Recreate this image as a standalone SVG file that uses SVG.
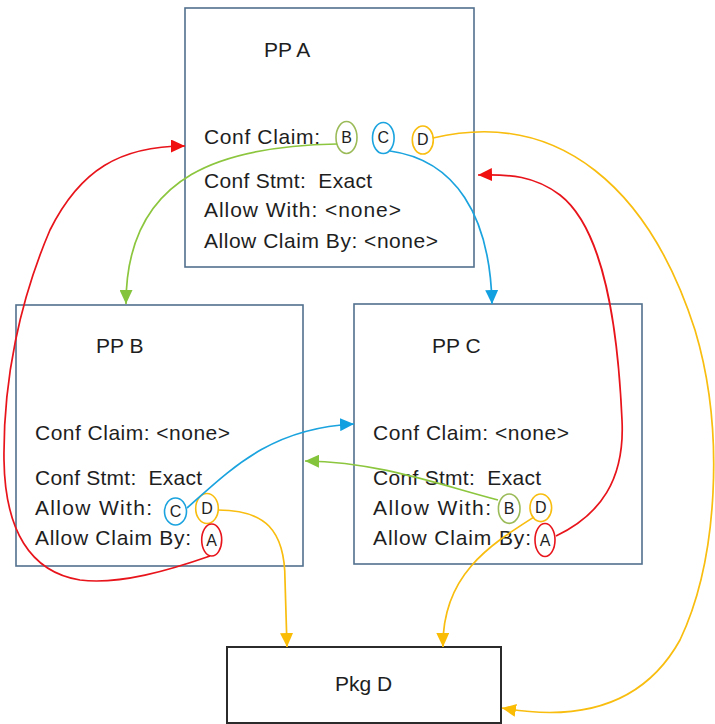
<svg xmlns="http://www.w3.org/2000/svg" width="715" height="724" viewBox="0 0 715 724">
  <style>
    .box { fill: #ffffff; stroke: #52708e; stroke-width: 1.6; }
    .pkg { fill: #ffffff; stroke: #2b2b2b; stroke-width: 2; }
    .t { font-family: "Liberation Sans", Arial, sans-serif; font-size: 21px; fill: #1e1e1e; }
    .l { font-family: "Liberation Sans", Arial, sans-serif; font-size: 16px; fill: #1e1e1e; text-anchor: middle; }
    .o { fill: none; stroke-width: 1.6; }
    .c { fill: none; stroke-width: 1.7; }
    .red { stroke: #e8141b; }
    .grn { stroke: #8cc63e; }
    .ogrn { stroke: #9bbb59; }
    .blu { stroke: #1aa3de; }
    .yel { stroke: #f8bd0e; }
  </style>
  <defs>
    <marker id="ah-red" markerUnits="userSpaceOnUse" markerWidth="15" markerHeight="13" refX="14" refY="6.5" orient="auto">
      <path d="M0,0 L14,6.5 L0,13 z" fill="#f01010"/>
    </marker>
    <marker id="ah-grn" markerUnits="userSpaceOnUse" markerWidth="15" markerHeight="13" refX="14" refY="6.5" orient="auto">
      <path d="M0,0 L14,6.5 L0,13 z" fill="#84c43c"/>
    </marker>
    <marker id="ah-blu" markerUnits="userSpaceOnUse" markerWidth="15" markerHeight="13" refX="14" refY="6.5" orient="auto">
      <path d="M0,0 L14,6.5 L0,13 z" fill="#12a0e0"/>
    </marker>
    <marker id="ah-yel" markerUnits="userSpaceOnUse" markerWidth="15" markerHeight="13" refX="14" refY="6.5" orient="auto">
      <path d="M0,0 L14,6.5 L0,13 z" fill="#fbbc05"/>
    </marker>
  </defs>

  <!-- Profile boxes -->
  <g id="ppA">
    <rect class="box" x="185" y="8" width="289" height="259"/>
    <text class="t" x="264" y="57">PP A</text>
    <text class="t" x="204" y="144" textLength="116" lengthAdjust="spacing">Conf Claim:</text>
    <ellipse class="o ogrn" cx="346.5" cy="137.5" rx="10.5" ry="16"/>
    <text class="l" x="346.5" y="143">B</text>
    <ellipse class="o blu" cx="383.3" cy="138" rx="10.8" ry="15.5"/>
    <text class="l" x="383.3" y="143">C</text>
    <ellipse class="o yel" cx="422.8" cy="140" rx="10.5" ry="14"/>
    <text class="l" x="422.8" y="145">D</text>
    <text class="t" x="204" y="188" textLength="168" lengthAdjust="spacing" xml:space="preserve">Conf Stmt:  Exact</text>
    <text class="t" x="204" y="217" textLength="197" lengthAdjust="spacing">Allow With: &lt;none&gt;</text>
    <text class="t" x="204" y="248" textLength="234" lengthAdjust="spacing">Allow Claim By: &lt;none&gt;</text>
  </g>

  <g id="ppB">
    <rect class="box" x="16" y="305" width="287" height="261"/>
    <text class="t" x="96" y="353">PP B</text>
    <text class="t" x="35" y="440" textLength="195" lengthAdjust="spacing">Conf Claim: &lt;none&gt;</text>
    <text class="t" x="35" y="485" textLength="167" lengthAdjust="spacing" xml:space="preserve">Conf Stmt:  Exact</text>
    <text class="t" x="35" y="515" textLength="117" lengthAdjust="spacing">Allow With:</text>
    <ellipse class="o blu" cx="175.5" cy="511.5" rx="11" ry="13.5"/>
    <text class="l" x="175.5" y="517">C</text>
    <ellipse class="o yel" cx="207" cy="508.5" rx="11.3" ry="15"/>
    <text class="l" x="207" y="514">D</text>
    <text class="t" x="35" y="545" textLength="156" lengthAdjust="spacing">Allow Claim By:</text>
    <ellipse class="o red" cx="211.7" cy="540" rx="10" ry="16"/>
    <text class="l" x="211.7" y="546">A</text>
  </g>

  <g id="ppC">
    <rect class="box" x="354" y="304" width="288" height="260"/>
    <text class="t" x="432" y="353">PP C</text>
    <text class="t" x="373" y="440" textLength="196" lengthAdjust="spacing">Conf Claim: &lt;none&gt;</text>
    <text class="t" x="373" y="485" textLength="168" lengthAdjust="spacing" xml:space="preserve">Conf Stmt:  Exact</text>
    <text class="t" x="373" y="515" textLength="118" lengthAdjust="spacing">Allow With:</text>
    <ellipse class="o ogrn" cx="509.2" cy="508.7" rx="10.8" ry="14.7"/>
    <text class="l" x="509.2" y="514">B</text>
    <ellipse class="o yel" cx="540.8" cy="507.8" rx="10.8" ry="13.8"/>
    <text class="l" x="540.8" y="513">D</text>
    <text class="t" x="373" y="545" textLength="158" lengthAdjust="spacing">Allow Claim By:</text>
    <ellipse class="o red" cx="545" cy="540" rx="10" ry="16.5"/>
    <text class="l" x="545" y="546">A</text>
  </g>

  <g id="pkgD">
    <rect class="pkg" x="227" y="647" width="274" height="76"/>
    <text class="t" x="335" y="691">Pkg D</text>
  </g>

  <!-- Dependency arrows -->
  <g id="connectors">
    <path class="c grn" d="M337,144 C230,146 126,170 126,304" marker-end="url(#ah-grn)"/>
    <path class="c blu" d="M390,151 C455,160 490,215 492,304" marker-end="url(#ah-blu)"/>
    <path class="c yel" d="M433,138 C560,108 650,190 695,330 C725,430 718,560 680,640 C640,712 570,720 502,708" marker-end="url(#ah-yel)"/>
    <path class="c red" d="M210,556 C170,570 120,585 80,580 C30,572 5,530 4,460 C3,380 20,300 50,230 C80,170 120,146 185,146" marker-end="url(#ah-red)"/>
    <path class="c red" d="M556,536 C600,515 625,480 622,420 C618,330 605,230 560,195 C535,176 510,174 478,175" marker-end="url(#ah-red)"/>
    <path class="c blu" d="M187,508 C230,470 270,428 354,424" marker-end="url(#ah-blu)"/>
    <path class="c grn" d="M498,500 C440,485 380,462 305,461" marker-end="url(#ah-grn)"/>
    <path class="c yel" d="M218,510 C265,510 285,530 285,580 L287,647" marker-end="url(#ah-yel)"/>
    <path class="c yel" d="M534,517 C490,545 442,575 443,647" marker-end="url(#ah-yel)"/>
  </g>
</svg>
